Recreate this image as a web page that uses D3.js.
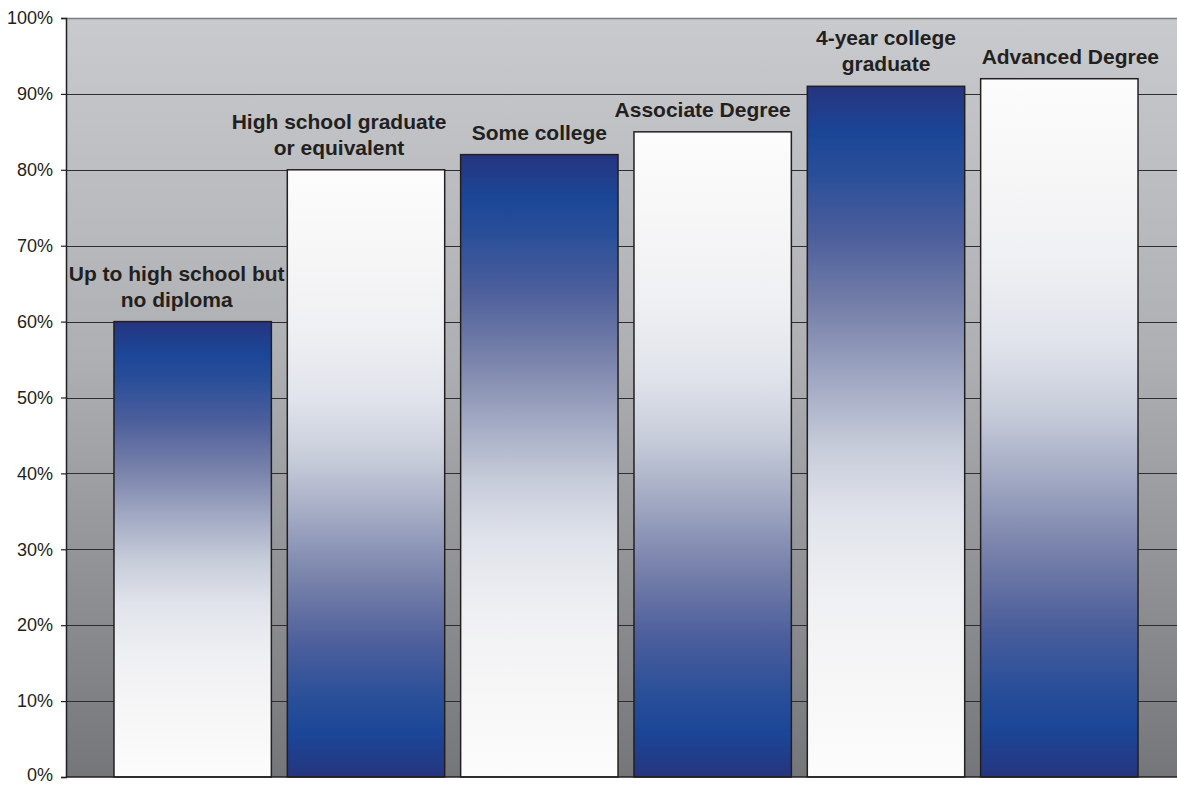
<!DOCTYPE html>
<html>
<head>
<meta charset="utf-8">
<script src="https://cdn.jsdelivr.net/npm/d3@7"></script>
<style>
  html, body { margin: 0; padding: 0; background: #ffffff; }
  svg { display: block; }
</style>
</head>
<body>
<svg id="chart" width="1177" height="785"></svg>
<script>
// Education level categories (label lines) and the share for each
const categories = [
  "Up to high school but|no diploma",
  "High school graduate|or equivalent",
  "Some college",
  "Associate Degree",
  "4-year college|graduate",
  "Advanced Degree"
];
const values = [60, 80, 82, 85, 91, 92];
const tickValues = [0, 10, 20, 30, 40, 50, 60, 70, 80, 90, 100];

const svg = d3.select("#chart");
const plot = { left: 66, right: 1177, top: 18, bottom: 777 };

const y = d3.scaleLinear().domain([0, 100]).range([plot.bottom, plot.top]);
const x = d3.scaleBand()
  .domain(categories)
  .range([106, 1146])
  .paddingInner(0.092)
  .paddingOuter(0.046);

const defs = svg.append("defs");

// plot area background: light grey at top, darker toward the axis
const bg = defs.append("linearGradient")
  .attr("id", "bgGrad").attr("x1", 0).attr("y1", 0).attr("x2", 0).attr("y2", 1);
bg.append("stop").attr("offset", "0%").attr("stop-color", "#c9cacd");
bg.append("stop").attr("offset", "45%").attr("stop-color", "#aeafb2");
bg.append("stop").attr("offset", "100%").attr("stop-color", "#75767a");

// bar fill: navy band fading to white
const stops = [
  [0.00, "#26357f"], [0.07, "#1b4697"], [0.13, "#2a4f99"], [0.22, "#4d5f9c"],
  [0.32, "#7680a9"], [0.42, "#9ea6c1"], [0.52, "#c6cbd9"], [0.62, "#e0e3eb"],
  [0.74, "#eff0f3"], [0.88, "#f7f7f7"], [1.00, "#fcfcfc"]
];
const gDown = defs.append("linearGradient")
  .attr("id", "barDarkTop").attr("x1", 0).attr("y1", 0).attr("x2", 0).attr("y2", 1);
stops.forEach(s => gDown.append("stop").attr("offset", s[0]).attr("stop-color", s[1]));
const gUp = defs.append("linearGradient")
  .attr("id", "barDarkBottom").attr("x1", 0).attr("y1", 1).attr("x2", 0).attr("y2", 0);
stops.forEach(s => gUp.append("stop").attr("offset", s[0]).attr("stop-color", s[1]));

svg.append("rect")
  .attr("x", plot.left).attr("y", plot.top)
  .attr("width", plot.right - plot.left).attr("height", plot.bottom - plot.top)
  .attr("fill", "url(#bgGrad)");

// horizontal gridlines
svg.append("g")
  .selectAll("line")
  .data(tickValues.filter(v => v > 0 && v < 100))
  .join("line")
  .attr("x1", plot.left).attr("x2", plot.right)
  .attr("y1", d => Math.round(y(d)) + 0.5).attr("y2", d => Math.round(y(d)) + 0.5)
  .attr("stroke", "#2e2e30").attr("stroke-width", 1);

// top edge of the plot area
svg.append("line")
  .attr("x1", plot.left).attr("x2", plot.right)
  .attr("y1", plot.top + 0.5).attr("y2", plot.top + 0.5)
  .attr("stroke", "#7d7e81").attr("stroke-width", 1.5);

// bars
svg.append("g")
  .selectAll("rect")
  .data(categories)
  .join("rect")
  .attr("x", d => x(d))
  .attr("y", (d, i) => y(values[i]))
  .attr("width", x.bandwidth())
  .attr("height", (d, i) => y(0) - y(values[i]))
  .attr("fill", (d, i) => i % 2 === 0 ? "url(#barDarkTop)" : "url(#barDarkBottom)")
  .attr("stroke", "#231f20").attr("stroke-width", 1.5);

// y axis
const yAxis = d3.axisLeft(y)
  .tickValues(tickValues)
  .tickSize(5)
  .tickPadding(8)
  .tickFormat(d => d + "%");
const ag = svg.append("g")
  .attr("transform", `translate(${plot.left},0)`)
  .call(yAxis);
ag.select(".domain").attr("stroke", "#231f20").attr("stroke-width", 1.5);
ag.selectAll(".tick line").attr("stroke", "#231f20").attr("stroke-width", 1.2);
ag.selectAll(".tick text")
  .attr("fill", "#231f20")
  .attr("dy", d => d === 0 ? "0.2em" : "0.32em")   // keep the bottom label inside the page
  .style("font-family", "'Liberation Sans', Arial, sans-serif")
  .style("font-size", "18px");

// x axis baseline
svg.append("line")
  .attr("x1", plot.left).attr("x2", plot.right)
  .attr("y1", plot.bottom).attr("y2", plot.bottom)
  .attr("stroke", "#231f20").attr("stroke-width", 1.5);

// category labels above each bar; each text box is nudged sideways a little
const labelShift = [-16, -27, 0, -10, 0, 11];
const lineH = 26;
svg.append("g")
  .selectAll("text")
  .data(categories)
  .join("text")
  .attr("text-anchor", "middle")
  .attr("fill", "#231f20")
  .style("font-family", "'Liberation Sans', Arial, sans-serif")
  .style("font-weight", "bold")
  .style("font-size", "21px")
  .each(function (d, i) {
    const lines = d.split("|");
    const cx = x(d) + x.bandwidth() / 2 + labelShift[i];
    const baseY = y(values[i]) - 15 - (lines.length - 1) * lineH;
    lines.forEach((ln, k) => {
      d3.select(this).append("tspan")
        .attr("x", cx)
        .attr("y", baseY + k * lineH)
        .text(ln);
    });
  });
</script>
</body>
</html>
